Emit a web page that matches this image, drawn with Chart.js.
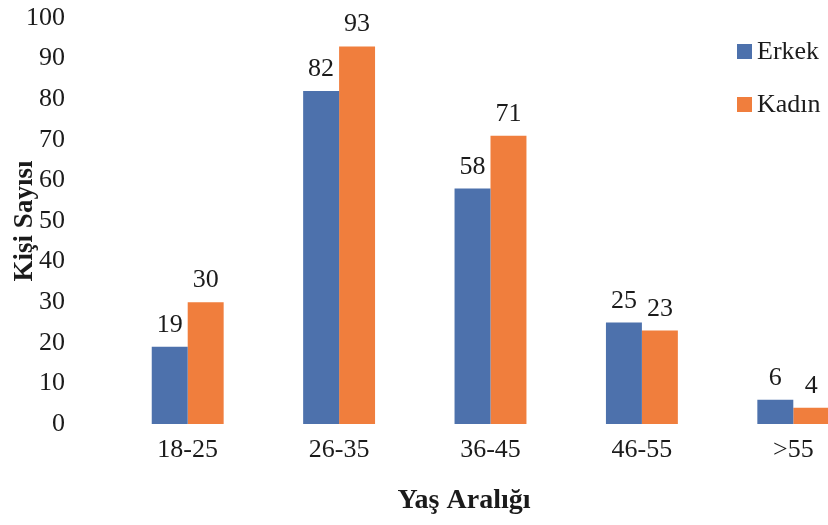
<!DOCTYPE html>
<html>
<head>
<meta charset="utf-8">
<script src="https://cdn.jsdelivr.net/npm/chart.js@4/dist/chart.umd.min.js"></script>
<style>
  html, body { margin: 0; padding: 0; background: #fff; overflow: hidden; }
  #wrap { width: 828px; height: 525px; overflow: hidden; position: relative; }
  canvas { display: block; }
</style>
</head>
<body>
<div id="wrap"><canvas id="c" width="870" height="525"></canvas></div>
<script>
const ageGroups = ['18-25', '26-35', '36-45', '46-55', '>55'];
const erkek = [19, 82, 58, 25, 6];
const kadin = [30, 93, 71, 23, 4];
const yTicks = [0, 10, 20, 30, 40, 50, 60, 70, 80, 90, 100];

const SERIF = '"Liberation Serif", "Times New Roman", serif';
const INK = '#1b1b1b';

// Numbers printed above each bar
const valueLabels = {
  id: 'valueLabels',
  afterDatasetsDraw(chart) {
    const ctx = chart.ctx;
    ctx.save();
    ctx.font = '26px ' + SERIF;
    ctx.fillStyle = INK;
    ctx.textAlign = 'center';
    ctx.textBaseline = 'alphabetic';
    chart.data.datasets.forEach((ds, i) => {
      chart.getDatasetMeta(i).data.forEach((bar, j) => {
        ctx.fillText(String(ds.data[j]), bar.x, bar.y - 15);
      });
    });
    ctx.restore();
  }
};

// Vertical legend at the upper right plus the horizontal axis title
const sideLegend = {
  id: 'sideLegend',
  afterDraw(chart) {
    const ctx = chart.ctx;
    ctx.save();
    ctx.font = '26px ' + SERIF;
    ctx.textBaseline = 'alphabetic';
    ctx.textAlign = 'left';
    chart.data.datasets.forEach((ds, i) => {
      const base = 59 + i * 53;
      ctx.fillStyle = ds.backgroundColor;
      ctx.fillRect(737, base - 15, 15, 15);
      ctx.fillStyle = INK;
      ctx.fillText(ds.label, 757, base);
    });
    ctx.font = 'bold 28px ' + SERIF;
    ctx.textAlign = 'center';
    ctx.fillText('Yaş Aralığı', 464, 508);
    ctx.restore();
  }
};

new Chart(document.getElementById('c'), {
  type: 'bar',
  data: {
    labels: ageGroups,
    datasets: [
      { label: 'Erkek', data: erkek, backgroundColor: '#4D71AC' },
      { label: 'Kadın', data: kadin, backgroundColor: '#F07E3D' }
    ]
  },
  options: {
    responsive: false,
    maintainAspectRatio: false,
    animation: false,
    devicePixelRatio: 1,
    layout: { padding: { top: 18, right: 1, left: 0, bottom: 0 } },
    datasets: { bar: { barPercentage: 1.0, categoryPercentage: 0.475 } },
    plugins: { legend: { display: false }, tooltip: { enabled: false } },
    scales: {
      x: {
        grid: { display: false, drawTicks: false },
        border: { display: false },
        ticks: { color: INK, font: { family: SERIF, size: 26 }, padding: 11, maxRotation: 0 },
        afterFit(scale) { scale.height = 101; }
      },
      y: {
        min: 0,
        max: 100,
        grid: { display: false, drawTicks: false },
        border: { display: false },
        afterBuildTicks(scale) { scale.ticks = yTicks.map(v => ({ value: v })); },
        ticks: { color: INK, font: { family: SERIF, size: 26 }, padding: 47 },
        title: {
          display: true,
          text: 'Kişi Sayısı',
          color: INK,
          font: { family: SERIF, size: 27, weight: 'bold' },
          padding: { top: 9, bottom: 0 }
        },
        afterFit(scale) {
          scale.width = 112;
          // the wide label gap should not push the plot area down
          scale.paddingTop = 0;
          scale.paddingBottom = 0;
        }
      }
    }
  },
  plugins: [valueLabels, sideLegend]
});
</script>
</body>
</html>
